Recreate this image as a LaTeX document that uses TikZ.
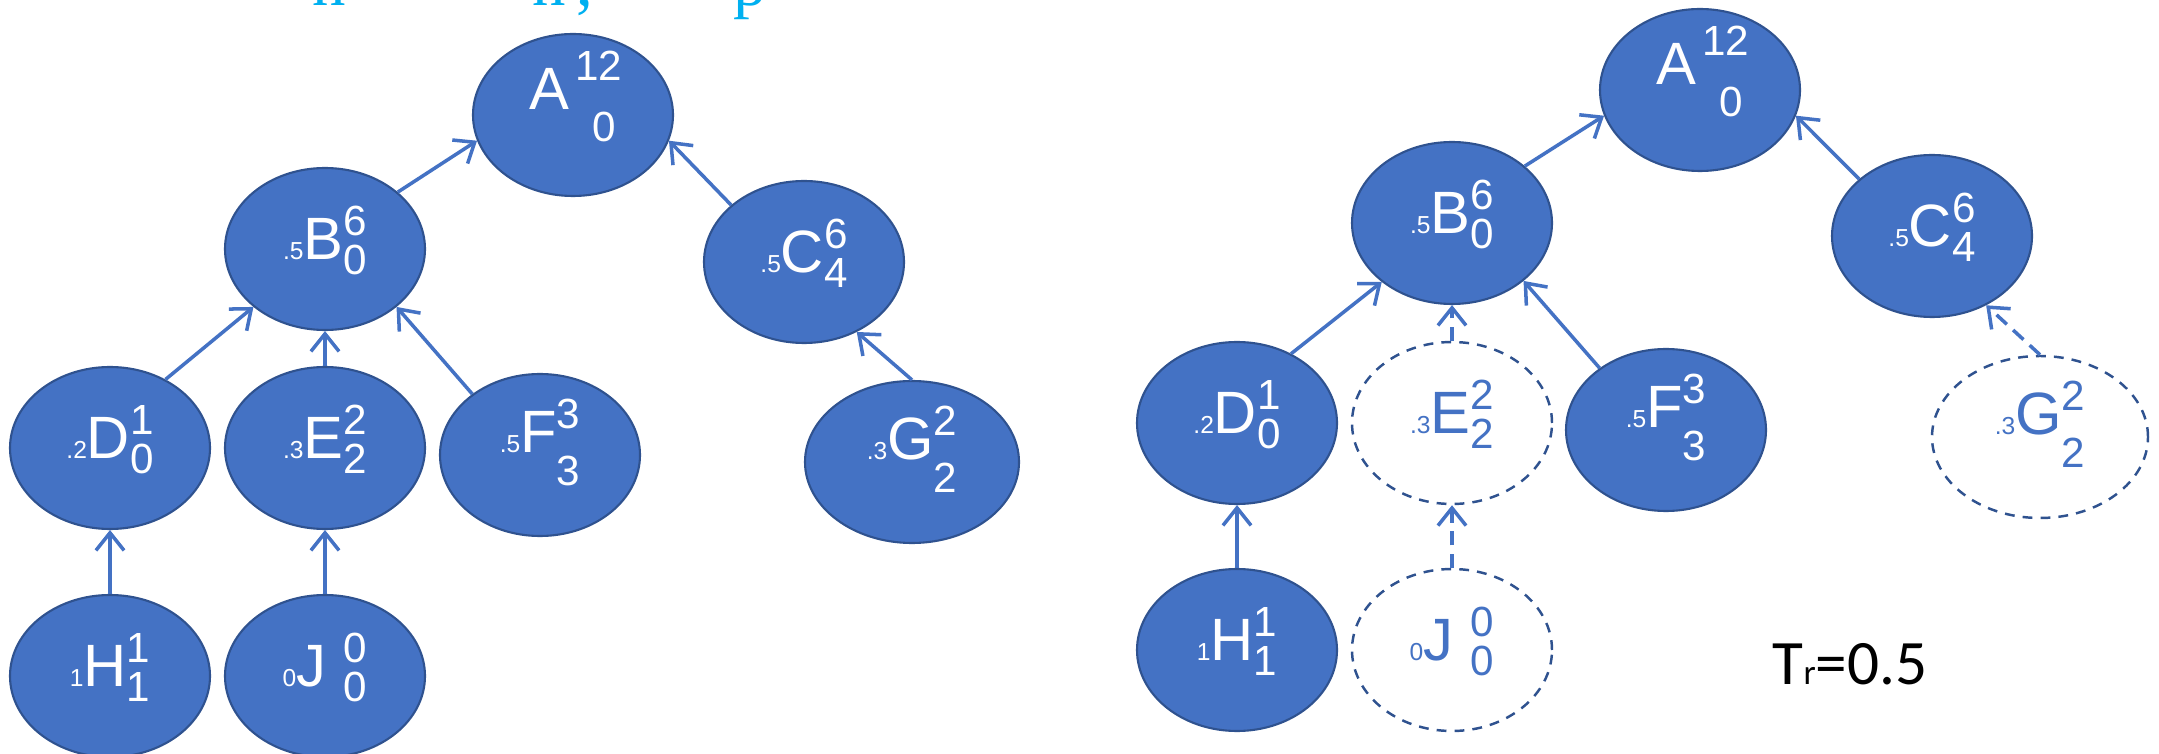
\documentclass[tikz,border=0pt]{standalone}
\usepackage{fontspec}
\setmainfont{Liberation Sans}
\newfontfamily\calib{Carlito}
\newfontfamily\headserif{Liberation Serif}
\usetikzlibrary{arrows.meta,shapes.geometric}

\definecolor{vfill}{HTML}{4472C4}
\definecolor{vedge}{HTML}{2F528F}
\definecolor{headcyan}{HTML}{00B0F0}

% prefix . letter . stacked super/sub
\newcommand{\pfx}[1]{{\fontsize{7}{7}\selectfont #1}}
\newcommand{\nlbl}[5][4.5pt]{\pfx{#2}{\fontsize{17}{17}\selectfont #3}{\fontsize{12}{12}\selectfont\rlap{\raisebox{6.8pt}{#4}}\raisebox{-#1}{#5}}}
\newcommand{\rootlbl}{{\fontsize{17}{17}\selectfont A}\hspace{1.5pt}{\fontsize{12}{12}\selectfont\rlap{\raisebox{8.5pt}{12}}\hspace{5pt}\raisebox{-9pt}{0}}}

\tikzset{
  vtx/.style={ellipse, draw=vedge, fill=vfill, text=white, line width=0.6pt,
    minimum width=2cm, minimum height=1.62cm, inner sep=0pt},
  gone/.style={vtx, fill=white, text=vfill, line width=0.7pt, dash pattern=on 2.8pt off 2.3pt},
  lowbase/.style={text height=5.7pt, text depth=0pt},
  highbase/.style={text height=0pt, text depth=1.7pt},
  topbase/.style={text height=0pt, text depth=2.85pt},
  up/.style={draw=vfill, line width=1pt, -{Straight Barb[length=5pt,width=8pt]}},
  updash/.style={up, dash pattern=on 4pt off 2.4pt},
  frag/.style={text=headcyan, font=\headserif\fontsize{19}{19}\selectfont, inner sep=0pt, anchor=base west}
}

\begin{document}
\begin{tikzpicture}
    \useasboundingbox (0,0) rectangle (21.59,-7.54);
    \clip (0,0) rectangle (21.59,-7.54);

    % cut-off heading
    \node[frag] (fr1) at (3.12,-0.06) {n};
    \node[frag] (fr2) at (5.32,-0.06) {n\hspace{3pt},};
    \node[frag] (fr3) at (7.33,-0.06) {p};

    % Left tree
    \node[vtx,topbase] (lA) at (5.73,-1.15) {\rootlbl};
    \node[vtx,lowbase] (lB) at (3.25,-2.49) {\nlbl{.5}{B}{6}{0}};
    \node[vtx,lowbase] (lC) at (8.04,-2.62) {\nlbl{.5}{C}{6}{4}};
    \node[vtx,lowbase] (lD) at (1.10,-4.48) {\nlbl{.2}{D}{1}{0}};
    \node[vtx,lowbase] (lE) at (3.25,-4.48) {\nlbl{.3}{E}{2}{2}};
    \node[vtx,highbase] (lF) at (5.40,-4.55) {\nlbl[9.5pt]{.5}{F}{3}{3}};
    \node[vtx,highbase,minimum width=2.14cm] (lG) at (9.12,-4.62) {\nlbl[9.5pt]{.3}{G}{2}{2}};
    \node[vtx,lowbase] (lH) at (1.10,-6.76) {\nlbl{1}{H}{1}{1}};
    \node[vtx,lowbase] (lJ) at (3.25,-6.76) {\nlbl{0}{J\hspace{5pt}}{0}{0}};

    \draw[up] (lB.38) -- (lA.195);
    \draw[up] (lC.142) -- (lA.-15);
    \draw[up] (lD.51) -- (lB.219);
    \draw[up] (lE.north) -- (lB.south);
    \draw[up] (lF.138) -- (lB.-39);
    \draw[up] (lG.north) -- (lC.-53);
    \draw[up] (lH.north) -- (lD.south);
    \draw[up] (lJ.north) -- (lE.south);

    % Right tree, after pruning
    \node[vtx,topbase] (rA) at (17.00,-0.90) {\rootlbl};
    \node[vtx,lowbase] (rB) at (14.52,-2.23) {\nlbl{.5}{B}{6}{0}};
    \node[vtx,lowbase] (rC) at (19.32,-2.36) {\nlbl{.5}{C}{6}{4}};
    \node[vtx,lowbase] (rD) at (12.37,-4.23) {\nlbl{.2}{D}{1}{0}};
    \node[gone,lowbase] (rE) at (14.52,-4.23) {\nlbl{.3}{E}{2}{2}};
    \node[vtx,highbase] (rF) at (16.66,-4.30) {\nlbl[9.5pt]{.5}{F}{3}{3}};
    \node[gone,highbase,minimum width=2.16cm] (rG) at (20.40,-4.37) {\nlbl[9.5pt]{.3}{G}{2}{2}};
    \node[vtx,lowbase] (rH) at (12.37,-6.50) {\nlbl{1}{H}{1}{1}};
    \node[gone,lowbase] (rJ) at (14.52,-6.50) {\nlbl{0}{J\hspace{5pt}}{0}{0}};

    \draw[up] (rB.38) -- (rA.195);
    \draw[up] (rC.142) -- (rA.-15);
    \draw[up] (rD.52) -- (rB.220);
    \draw[updash] (rE.north) -- (rB.south);
    \draw[up] (rF.137) -- (rB.-39);
    \draw[updash] (rG.north) -- (rC.-52);
    \draw[up] (rH.north) -- (rD.south);
    \draw[updash] (rJ.north) -- (rE.south);

    \node[font=\calib\fontsize{18}{18}\selectfont, inner sep=0pt, anchor=base west] (thr) at (17.72,-6.84)
        {T{\fontsize{10}{10}\selectfont r}=0.5};
\end{tikzpicture}
\end{document}
